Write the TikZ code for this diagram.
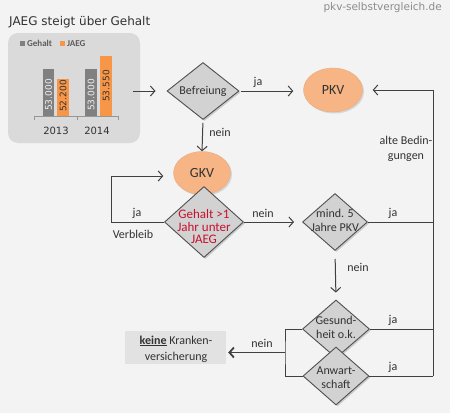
\documentclass[tikz,border=0pt]{standalone}
\usepackage{fontspec}
\setmainfont{Carlito}
\newfontfamily\dvs{DejaVu Sans}
\usetikzlibrary{shapes.geometric,arrows.meta,shadows}
\definecolor{bg}{RGB}{243,243,243}
\definecolor{panel}{RGB}{218,218,218}
\definecolor{diafill}{RGB}{210,210,210}
\definecolor{diaedge}{RGB}{80,80,80}
\definecolor{ellfill}{RGB}{247,181,133}
\definecolor{linec}{RGB}{64,64,64}
\definecolor{txtc}{RGB}{50,50,50}
\definecolor{redt}{RGB}{200,16,46}
\definecolor{barg}{RGB}{128,128,128}
\definecolor{baro}{RGB}{247,150,70}
\definecolor{wm}{RGB}{140,140,140}
\definecolor{boxc}{RGB}{226,226,226}
\definecolor{axisc}{RGB}{150,150,150}
\begin{document}
\begin{tikzpicture}[x=1pt,y=-1pt,
 dia/.style={diamond, draw=diaedge, line width=0.9pt, fill=diafill, inner sep=0pt,
   drop shadow={shadow xshift=1.5pt,shadow yshift=-1.5pt,opacity=0.35}},
 ell/.style={ellipse, fill=ellfill, draw=ellfill!92!black, line width=0.3pt, inner sep=0pt,
   drop shadow={shadow xshift=1.5pt,shadow yshift=-1.5pt,opacity=0.25},
   font=\fontsize{14}{16}\selectfont, text=txtc},
 txt/.style={text=txtc, font=\fontsize{12}{14}\selectfont, align=center, inner sep=0pt},
 redtxt/.style={text=redt, font=\fontsize{13}{12.5}\selectfont, align=center, inner sep=0pt},
 lbl/.style={text=txtc, font=\fontsize{12}{14}\selectfont, inner sep=0pt},
 arr/.style={draw=linec, line width=1pt, -{Straight Barb[length=4.5pt,width=10pt]}},
 ln/.style={draw=linec, line width=1pt},
 barlbl/.style={rotate=90, font=\dvs\fontsize{9}{10}\selectfont, inner sep=0pt}]
\fill[bg] (0,0) rectangle (450,413);
\useasboundingbox (0,0) rectangle (450,413);

% watermark and title
\node[text=wm, font=\dvs\fontsize{10.5}{12}\selectfont, anchor=east, inner sep=0pt] (wmark) at (442,8) {pkv-selbstvergleich.de};
\node[text=txtc, font=\dvs\fontsize{12}{14}\selectfont, anchor=west, inner sep=0pt] (title) at (9,22) {JAEG steigt über Gehalt};

% chart panel
\node[fill=panel, rounded corners=10pt, minimum width=132pt, minimum height=110pt, inner sep=0pt] (chart) at (74,88) {};
\fill[barg] (20,41) rectangle (25,46);
\node[font=\bfseries\fontsize{9}{10}\selectfont, text=txtc!80!white, anchor=west, inner sep=0pt] (lg) at (27,43.5) {Gehalt};
\fill[baro] (60,41) rectangle (65,46);
\node[font=\bfseries\fontsize{9}{10}\selectfont, text=txtc!80!white, anchor=west, inner sep=0pt] (lj) at (67,43.5) {JAEG};
\fill[barg] (43,69) rectangle (54,116);
\fill[baro] (57,79) rectangle (69,116);
\fill[barg] (85,69) rectangle (97,116);
\fill[baro] (100,56) rectangle (112,116);
\draw[axisc, line width=0.8pt] (34,116) -- (118,116);
\foreach \xx in {34,77,118} \draw[axisc, line width=0.8pt] (\xx,116) -- (\xx,120);
\node[barlbl, text=white!90!gray] (b1) at (48.5,95) {53.000};
\node[barlbl, text=txtc] (b2) at (63,96) {52.200};
\node[barlbl, text=white!90!gray] (b3) at (91,95) {53.000};
\node[barlbl, text=txtc] (b4) at (106,86) {53.550};
\node[font=\dvs\fontsize{10}{11}\selectfont, text=txtc, inner sep=0pt] (y1) at (56,131) {2013};
\node[font=\dvs\fontsize{10}{11}\selectfont, text=txtc, inner sep=0pt] (y2) at (97,131) {2014};

% flow nodes
\node[dia, minimum width=72pt, minimum height=57pt] (bef) at (203,91) {};
\node[txt] at (bef) {Befreiung};
\node[ell, minimum width=59pt, minimum height=44pt] (pkv) at (333,90) {PKV};
\node[ell, minimum width=57pt, minimum height=43pt] (gkv) at (202,173) {GKV};
\node[dia, minimum width=79pt, minimum height=71pt] (geh) at (204,222) {};
\node[redtxt] at (204,227) {Gehalt >1\\Jahr unter\\JAEG};
\node[dia, minimum width=65pt, minimum height=57pt] (mind) at (335,222) {};
\node[txt] at (335,220) {mind. 5\\Jahre PKV};
\node[dia, minimum width=67pt, minimum height=58pt] (ges) at (336,329) {};
\node[txt] at (336,327) {Gesund-\\heit o.k.};
\node[dia, minimum width=66pt, minimum height=58pt] (anw) at (336,376) {};
\node[txt] at (336,378) {Anwart-\\schaft};
\node[fill=boxc, minimum width=101pt, minimum height=33pt, inner sep=0pt] (keine) at (175.5,347.5) {};
\node[text=txtc, font=\fontsize{12}{16}\selectfont, align=center, inner sep=0pt] at (176,349) {\underline{\textbf{keine}} Kranken-\\versicherung};

% coordinates
\coordinate (rtop) at (433,90);
\coordinate (rbot) at (433,376);
\coordinate (brk) at (285,352.5);

% connectors
\draw[arr, shorten <=-7pt, shorten >=11pt] (chart.east |- bef.west) -- (bef.west);
\draw[arr, shorten <=2pt, shorten >=10pt] (bef.east) -- (pkv.west |- bef.east);
\draw[arr, shorten <=3pt] (bef.south) -- (gkv.north);
\draw[arr, shorten >=10pt] (geh.west) -- ++(-53,0) |- ([yshift=-3pt]gkv.west);
\draw[arr, shorten >=8pt] (geh.east) -- (mind.west);
\draw[arr, shorten <=8pt, shorten >=7pt] (mind.south) -- (ges.north);
\draw[ln] (mind.east) -- (mind.east -| rtop);
\draw[ln] (ges.east) -- (ges.east -| rtop);
\draw[ln] (anw.east) -- (rbot);
\draw[arr, shorten >=10pt] (rbot) -- (rtop) -- (pkv.east);
\draw[ln] (ges.west) -| (brk) |- (anw.west);
\draw[arr, line width=1.8pt, shorten >=2pt] (brk) -- (keine.east |- brk);

% labels
\node[lbl] at (258,82) {ja};
\node[lbl] at (220,132) {nein};
\node[lbl, align=center, font=\fontsize{12}{15}\selectfont] at (406,149) {alte Bedin-\\gungen};
\node[lbl] at (137,213) {ja};
\node[lbl] at (133,234) {Verbleib};
\node[lbl] at (263,213) {nein};
\node[lbl] at (393,213) {ja};
\node[lbl] at (358,267) {nein};
\node[lbl] at (393,320) {ja};
\node[lbl] at (393,367) {ja};
\node[lbl] at (262,343) {nein};
\end{tikzpicture}
\end{document}
